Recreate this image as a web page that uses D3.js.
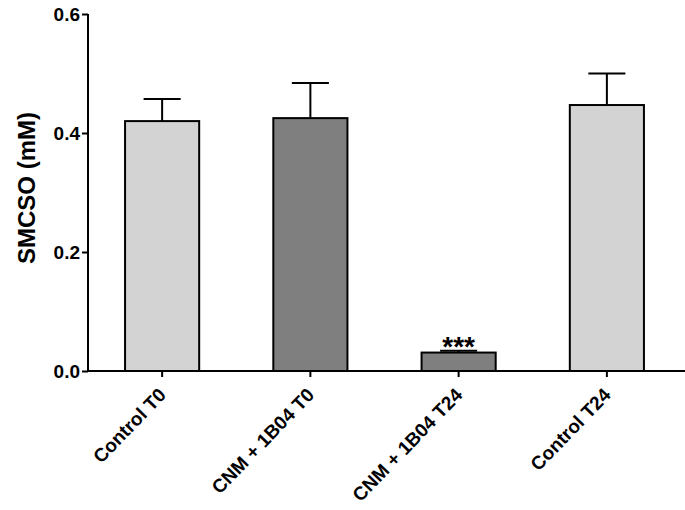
<!DOCTYPE html>
<html><head><meta charset="utf-8">
<script src="https://cdn.jsdelivr.net/npm/d3@7"></script>
<style>body{margin:0;background:#fff}svg{display:block}text{font-family:"Liberation Sans",Arial,sans-serif;font-weight:bold}</style>
</head><body>
<svg id="c" width="685" height="510"></svg>
<script>
const categories = ["Control T0", "CNM + 1B04 T0", "CNM + 1B04 T24", "Control T24"];
const means = [0.420, 0.425, 0.031, 0.447];
const errors = [0.037, 0.059, 0.003, 0.053];
const fills = ["#d3d3d3", "#7f7f7f", "#7f7f7f", "#d3d3d3"];
const sigLabels = ["", "", "***", ""];
const yTicks = [0.0, 0.2, 0.4, 0.6];

const svg = d3.select("#c");
const x = d3.scaleBand().domain(categories).range([88, 681]).paddingInner(0.5).paddingOuter(0.25);
const y = d3.scaleLinear().domain([0, 0.6]).range([371, 14]);

const data = categories.map((c, i) => ({c, m: means[i], e: errors[i], f: fills[i], s: sigLabels[i]}));

const eb = svg.append("g");
data.forEach(d => {
  const cx = x(d.c) + x.bandwidth() / 2;
  const cw = x.bandwidth() / 4;
  eb.append("line").attr("x1", cx).attr("x2", cx).attr("y1", y(d.m)).attr("y2", y(d.m + d.e)).attr("stroke", "#000").attr("stroke-width", 2);
  eb.append("line").attr("x1", cx - cw).attr("x2", cx + cw).attr("y1", y(d.m + d.e)).attr("y2", y(d.m + d.e)).attr("stroke", "#000").attr("stroke-width", 2);
});

svg.append("g").selectAll("rect").data(data).join("rect")
  .attr("x", d => x(d.c)).attr("width", x.bandwidth())
  .attr("y", d => y(d.m)).attr("height", d => y(0) - y(d.m))
  .attr("fill", d => d.f).attr("stroke", "#000").attr("stroke-width", 2);

svg.append("g").selectAll("text.sig").data(data.filter(d => d.s)).join("text")
  .attr("class", "sig")
  .attr("x", d => x(d.c) + x.bandwidth() / 2).attr("y", d => y(d.m + d.e) + 5)
  .attr("text-anchor", "middle").style("font-size", "28px").text(d => d.s);

const ya = svg.append("g").attr("transform", "translate(88,0)")
  .call(d3.axisLeft(y).tickValues(yTicks).tickFormat(d3.format(".1f")).tickSize(6).tickPadding(2));
ya.select(".domain").attr("stroke-width", 2).attr("d", "M0," + y(0.6) + "V" + y(0));
ya.selectAll(".tick line").attr("stroke-width", 2);
ya.selectAll(".tick text").style("font-size", "19px").attr("fill", "#000")
  .style("font-family", "Liberation Sans, Arial, sans-serif").style("font-weight", "bold");

const xa = svg.append("g").attr("transform", "translate(0,371)")
  .call(d3.axisBottom(x).tickSize(6).tickSizeOuter(0));
xa.select(".domain").attr("stroke-width", 2).attr("d", "M88,0H685");
xa.selectAll(".tick line").attr("stroke-width", 2);
xa.selectAll(".tick text").style("font-size", "19px").attr("fill", "#000")
  .style("font-family", "Liberation Sans, Arial, sans-serif").style("font-weight", "bold")
  .attr("text-anchor", "end").attr("x", 0).attr("y", 0).attr("dy", "0")
  .attr("transform", "translate(5,25) rotate(-46)");

svg.append("text").attr("transform", "translate(35,188) rotate(-90)")
  .attr("text-anchor", "middle").style("font-size", "24px").text("SMCSO (mM)");
</script>
</body></html>
